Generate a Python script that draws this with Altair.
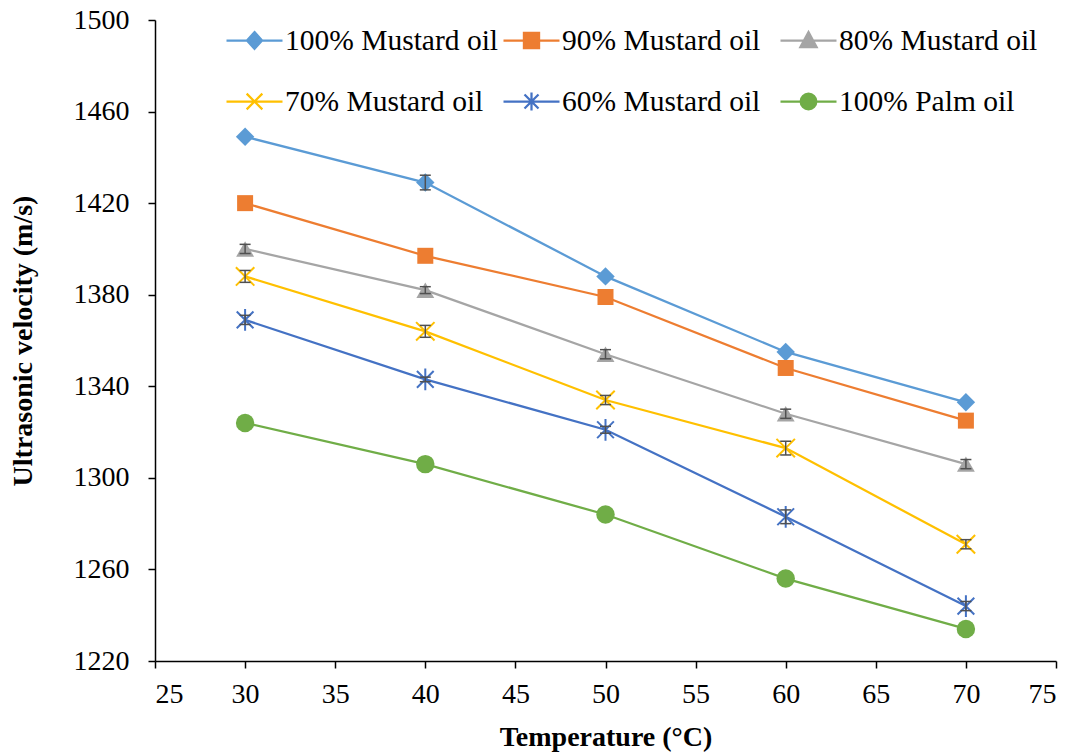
import altair as alt
import pandas as pd

temps = [30, 40, 50, 60, 70]
series_names = ["100% Mustard oil", "90% Mustard oil", "80% Mustard oil",
                "70% Mustard oil", "60% Mustard oil", "100% Palm oil"]
mustard_100 = [1449, 1429, 1388, 1355, 1333]
mustard_90 = [1420, 1397, 1379, 1348, 1325]
mustard_80 = [1400, 1382, 1354, 1328, 1306]
mustard_70 = [1388, 1364, 1334, 1313, 1271]
mustard_60 = [1369, 1343, 1321, 1283, 1244]
palm_100 = [1324, 1306, 1284, 1256, 1234]

err_100 = [0.0, 3.2, 0.0, 0.0, 0.0]
err_90 = [0.0, 0.0, 0.0, 0.0, 0.0]
err_80 = [2.0, 1.5, 2.0, 2.0, 2.0]
err_70 = [2.6, 2.6, 2.0, 3.0, 2.0]
err_60 = [2.0, 1.0, 1.5, 3.0, 2.0]
err_palm = [0.0, 0.0, 0.0, 0.0, 0.0]

x_ticks = [25, 30, 35, 40, 45, 50, 55, 60, 65, 70, 75]
y_ticks = [1220, 1260, 1300, 1340, 1380, 1420, 1460, 1500]

colors = ["#5B9BD5", "#ED7D31", "#A5A5A5", "#FFC000", "#4472C4", "#70AD47"]

all_vals = [mustard_100, mustard_90, mustard_80, mustard_70, mustard_60, palm_100]
all_errs = [err_100, err_90, err_80, err_70, err_60, err_palm]

rows = []
for name, vals, errs in zip(series_names, all_vals, all_errs):
    for t, v, e in zip(temps, vals, errs):
        rows.append({"series": name, "temp": t, "vel": v, "err": e, "lo": v - e, "hi": v + e})
df = pd.DataFrame(rows)

FONT = "Liberation Serif"

x_scale = alt.Scale(domain=[25, 75], nice=False, zero=False)
y_scale = alt.Scale(domain=[1220, 1500], nice=False, zero=False)

x_axis = alt.Axis(values=x_ticks, title="Temperature (°C)", grid=False, tickSize=7,
                  labelPadding=12, titlePadding=15, format="d")
y_axis = alt.Axis(values=y_ticks, title="Ultrasonic velocity (m/s)", grid=False, tickSize=7,
                  labelPadding=19, titlePadding=36, format="d")

color_scale = alt.Scale(domain=series_names, range=colors)

base = alt.Chart(df)
X = alt.X("temp:Q", scale=x_scale, axis=x_axis)
Y = alt.Y("vel:Q", scale=y_scale, axis=y_axis)

marker_styles = [
    ("diamond", 340, True),
    ("square", 256, True),
    ("triangle-up", 320, True),
    ("M-1,-1L1,1M-1,1L1,-1", 340, False),
    ("M-1,-1L1,1M-1,1L1,-1M0,-1.3L0,1.3", 280, False),
    ("circle", 340, True),
]

line_layers = []
point_layers = []
for name, col, (shp, sz, filled) in zip(series_names, colors, marker_styles):
    sub = base.transform_filter(alt.datum.series == name)
    line_layers.append(sub.mark_line(strokeWidth=2.25, color=col).encode(x=X, y=Y))
    if filled:
        mk = sub.mark_point(shape=shp, size=sz, filled=True, color=col, opacity=1)
    else:
        mk = sub.mark_point(shape=shp, size=sz, filled=False, color=col, opacity=1,
                            strokeWidth=2)
    point_layers.append(mk.encode(x=X, y=Y))

ebase = base.transform_filter("datum.err >= 1")
err_rule = ebase.mark_rule(color="#505050", strokeWidth=1.5).encode(
    x=X, y=alt.Y("lo:Q", scale=y_scale, axis=y_axis), y2="hi:Q",
)
err_lo = ebase.mark_tick(color="#505050", orient="horizontal", size=11, thickness=1.5, opacity=1).encode(
    x=X, y=alt.Y("lo:Q", scale=y_scale, axis=y_axis),
)
err_hi = ebase.mark_tick(color="#505050", orient="horizontal", size=11, thickness=1.5, opacity=1).encode(
    x=X, y=alt.Y("hi:Q", scale=y_scale, axis=y_axis),
)

legend_paths = [
    "M-1,0L1,0M0,-0.3L0.27,0L0,0.3L-0.27,0Z",
    "M-1,0L1,0M-0.27,-0.27L0.27,-0.27L0.27,0.27L-0.27,0.27Z",
    "M-1,0L1,0M0,-0.3L0.29,0.24L-0.29,0.24Z",
    "M-1,0L1,0M-0.28,-0.28L0.28,0.28M-0.28,0.28L0.28,-0.28",
    "M-1,0L1,0M-0.25,-0.25L0.25,0.25M-0.25,0.25L0.25,-0.25M0,-0.32L0,0.32",
    "M-1,0L1,0M0.28,0A0.28,0.28 0 1,1 -0.28,0A0.28,0.28 0 1,1 0.28,0Z",
]

legend = alt.Legend(
    title=None, orient="none", legendX=70, legendY=-9, columns=3, direction="horizontal",
    symbolSize=3136, symbolStrokeWidth=2.25, labelFont=FONT, labelFontSize=29.5,
    labelColor="black", labelOffset=1, columnPadding=0, rowPadding=17,
    labelLimit=0, gridAlign="all", padding=0,
)

ghost = base.mark_point(size=3136, clip=True, opacity=1, filled=True, strokeWidth=2.25).encode(
    x=alt.X("gx:Q", scale=x_scale, axis=x_axis),
    y=Y,
    shape=alt.Shape("series:N", scale=alt.Scale(domain=series_names, range=legend_paths), legend=legend),
    fill=alt.Fill("series:N", scale=color_scale, legend=legend),
    stroke=alt.Stroke("series:N", scale=color_scale, legend=legend),
).transform_calculate(gx="datum.temp - 300")

chart = alt.layer(*line_layers, *point_layers, err_rule, err_lo, err_hi, ghost).properties(
    width=901, height=641,
    autosize=alt.AutoSizeParams(type="none"),
    padding={"left": 155, "top": 20, "right": 20, "bottom": 95},
    background="white",
).configure_view(stroke=None).configure_axis(
    labelFont=FONT, labelFontSize=28, labelColor="black",
    titleFont=FONT, titleFontSize=28, titleFontWeight="bold", titleColor="black",
    domainColor="black", tickColor="black", domainWidth=1.5, tickWidth=1.5,
)

chart.save("out.html", embed_options={"renderer": "svg", "actions": False})
